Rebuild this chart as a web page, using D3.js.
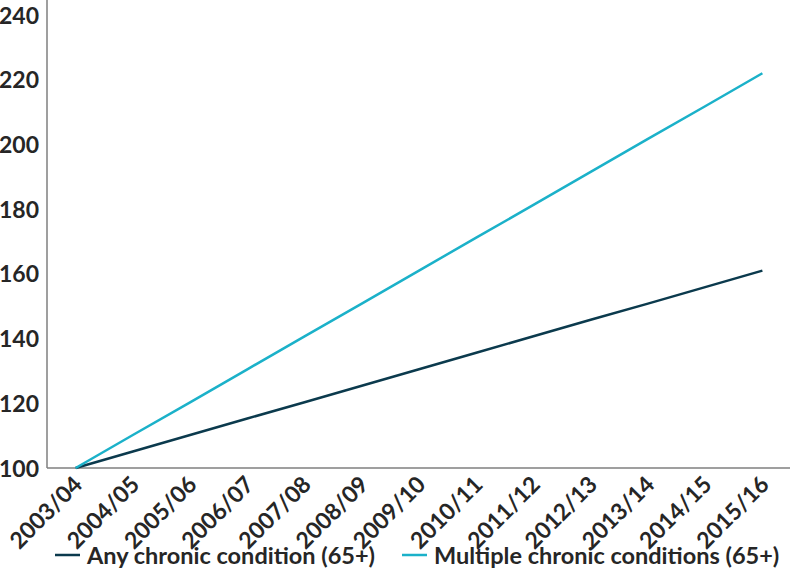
<!DOCTYPE html>
<html lang="en">
<head>
    <meta charset="UTF-8">
    <title>Chronic conditions index</title>
    <style>
        body { margin: 0; background: #fff; }
        text { font-family: Lato, "Open Sans", sans-serif; font-weight: bold; fill: #262626; }
    </style>
</head>
<body>
<svg id="chart" width="790" height="585"></svg>
<script src="https://d3js.org/d3.v7.min.js"></script>
<script>

    var years = ["2003/04", "2004/05", "2005/06", "2006/07", "2007/08", "2008/09", "2009/10",
        "2010/11", "2011/12", "2012/13", "2013/14", "2014/15", "2015/16"];
    var anyChronic = [100, 105.1, 110.2, 115.3, 120.3, 125.4, 130.5, 135.6, 140.7, 145.8, 150.8, 155.9, 161];
    var multipleChronic = [100, 110.2, 120.3, 130.5, 140.7, 150.8, 161, 171.2, 181.3, 191.5, 201.7, 211.8, 222];
    var yTicks = [100, 120, 140, 160, 180, 200, 220, 240];
    var seriesNames = ["Any chronic condition (65+)", "Multiple chronic conditions (65+)"];
    var seriesColors = ["#0b3a4d", "#1bb1c9"];

    var svg = d3.select("#chart"),
        plotLeft = 47,
        plotRight = 791,
        plotTop = 15,
        plotBottom = 468;

    var x = d3.scaleBand().domain(years).range([plotLeft, plotRight]);
    var y = d3.scaleLinear().domain([100, 240]).range([plotBottom, plotTop]);

    // y axis
    var yAxis = svg.append("g")
        .attr("transform", "translate(" + plotLeft + ",0)")
        .call(d3.axisLeft(y).tickValues(yTicks).tickSize(0).tickPadding(8));
    yAxis.select(".domain").remove();
    yAxis.selectAll("text").style("font-size", "23px").attr("dy", "0.35em");
    svg.append("line")
        .attr("x1", plotLeft).attr("x2", plotLeft)
        .attr("y1", 0).attr("y2", plotBottom)
        .attr("stroke", "#7f7f7f").attr("stroke-width", 1.5);

    // x axis
    var xAxis = svg.append("g")
        .attr("transform", "translate(0," + plotBottom + ")")
        .call(d3.axisBottom(x).tickSize(0).tickPadding(0));
    xAxis.select(".domain").remove();
    xAxis.selectAll("text")
        .style("font-size", "23px")
        .attr("text-anchor", "end")
        .attr("y", 0)
        .attr("dy", null)
        .attr("transform", "translate(8,18) rotate(-45)");
    svg.append("line")
        .attr("x1", plotLeft).attr("x2", 790)
        .attr("y1", plotBottom).attr("y2", plotBottom)
        .attr("stroke", "#7f7f7f").attr("stroke-width", 1.5);

    var line = d3.line()
        .x(function (d, i) { return x(years[i]) + x.bandwidth() / 2; })
        .y(function (d) { return y(d); });

    [anyChronic, multipleChronic].forEach(function (s, i) {
        svg.append("path")
            .datum(s)
            .attr("fill", "none")
            .attr("stroke", seriesColors[i])
            .attr("stroke-width", 2.5)
            .attr("d", line);
    });

    // legend
    var legendX = [55, 402];
    var legend = svg.append("g");
    seriesNames.forEach(function (name, i) {
        legend.append("line")
            .attr("x1", legendX[i]).attr("x2", legendX[i] + 25)
            .attr("y1", 555).attr("y2", 555)
            .attr("stroke", seriesColors[i]).attr("stroke-width", 2.5);
        legend.append("text")
            .attr("x", legendX[i] + 32)
            .attr("y", 564)
            .style("font-size", "23.5px")
            .text(name);
    });

</script>
</body>
</html>
